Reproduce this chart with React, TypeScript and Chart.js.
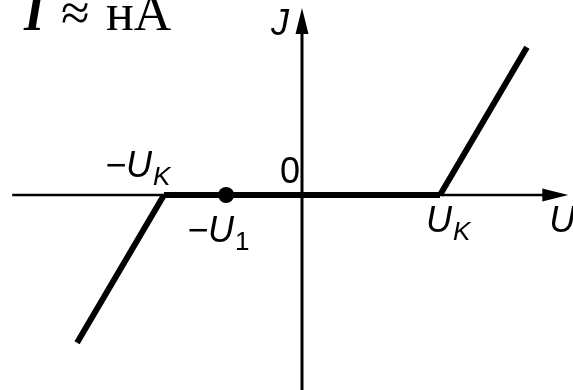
import React, { useEffect, useRef } from "react";
import { Chart, registerables } from "chart.js";

Chart.register(...registerables);

// Characteristic in units of the knee voltage U_K
const U_K = 1;
const U_1 = 0.55;

// Left conduction branch (beyond -U_K)
const leftBranchU = [-1.63, -U_K];
const leftBranchJ = [-1.07, 0];
// Blocking region: current ≈ nA, drawn on the axis
const blockU = [-U_K, U_K];
const blockJ = [0, 0];
// Right conduction branch (beyond U_K)
const rightBranchU = [U_K, 1.63];
const rightBranchJ = [0, 1.07];
// Marked operating point
const markerU = [-U_1];
const markerJ = [0];

// Axis extents (arrow tips at the positive ends)
const axisU = [-2.1, 1.93];
const axisJ = [-1.45, 1.355];

// Visible window
const uRange = [-2.1884, 1.9638];
const jRange = [-1.413, 1.413];

const toPts = (xs: number[], ys: number[]) => xs.map((x, i) => ({ x, y: ys[i] }));

type Label = {
  u: number;
  j: number;
  dx: number;
  dy: number;
  main: string;
  sub?: string;
  subItalic?: boolean;
};

const labels: Label[] = [
  { u: -U_K, j: 0, dx: -59, dy: -18, main: "−U", sub: "K", subItalic: true },
  { u: 0, j: 0, dx: -22, dy: -12, main: "0" },
  { u: -U_1, j: 0, dx: -39, dy: 47, main: "−U", sub: "1", subItalic: false },
  { u: U_K, j: 0, dx: -14, dy: 37, main: "U", sub: "K", subItalic: true },
  { u: axisU[1], j: 0, dx: -19, dy: 37, main: "U" },
  { u: 0, j: axisJ[1], dx: -31, dy: 27, main: "J" },
];

const SANS = "'Liberation Sans'";
const SERIF = "'Liberation Serif'";

const axesPlugin = {
  id: "arrowAxes",
  beforeDatasetsDraw(chart: any) {
    const { ctx, scales } = chart;
    const xs = scales.x;
    const ys = scales.y;
    const x0 = xs.getPixelForValue(0);
    const y0 = ys.getPixelForValue(0);
    const xL = xs.getPixelForValue(axisU[0]);
    const xR = xs.getPixelForValue(axisU[1]);
    const yB = ys.getPixelForValue(axisJ[0]);
    const yT = ys.getPixelForValue(axisJ[1]);
    const headLen = 26;
    const headHalf = 6.5;
    ctx.save();
    ctx.strokeStyle = "#000";
    ctx.fillStyle = "#000";
    ctx.lineCap = "butt";
    // horizontal axis
    ctx.lineWidth = 2.5;
    ctx.beginPath();
    ctx.moveTo(xL, y0);
    ctx.lineTo(xR - headLen + 2, y0);
    ctx.stroke();
    ctx.beginPath();
    ctx.moveTo(xR, y0);
    ctx.lineTo(xR - headLen, y0 - headHalf);
    ctx.lineTo(xR - headLen, y0 + headHalf);
    ctx.closePath();
    ctx.fill();
    // vertical axis
    ctx.lineWidth = 3;
    ctx.beginPath();
    ctx.moveTo(x0, yB);
    ctx.lineTo(x0, yT + headLen - 2);
    ctx.stroke();
    ctx.beginPath();
    ctx.moveTo(x0, yT);
    ctx.lineTo(x0 - headHalf, yT + headLen);
    ctx.lineTo(x0 + headHalf, yT + headLen);
    ctx.closePath();
    ctx.fill();
    ctx.restore();
  },
};

const labelPlugin = {
  id: "axisLabels",
  afterDatasetsDraw(chart: any) {
    const { ctx, scales } = chart;
    ctx.save();
    ctx.fillStyle = "#000";
    ctx.textBaseline = "alphabetic";
    ctx.textAlign = "left";
    for (const l of labels) {
      const px = scales.x.getPixelForValue(l.u) + l.dx;
      const py = scales.y.getPixelForValue(l.j) + l.dy;
      const italicMain = l.main !== "0";
      ctx.font = `${italicMain ? "italic " : ""}36px ${SANS}`;
      ctx.fillText(l.main, px, py);
      if (l.sub) {
        const w = ctx.measureText(l.main).width;
        ctx.font = `${l.subItalic ? "italic " : ""}26px ${SANS}`;
        ctx.fillText(l.sub, px + w + 1, py + 8);
      }
    }
    // unit note in the corner
    ctx.font = `italic bold 52px ${SERIF}`;
    ctx.fillText("I", 24, 30);
    ctx.font = `52px ${SERIF}`;
    ctx.fillText("≈", 61, 30);
    ctx.fillText("нА", 106, 30);
    ctx.restore();
  },
};

export default function App() {
  const ref = useRef<HTMLCanvasElement | null>(null);

  useEffect(() => {
    document.body.style.margin = "0";
    if (!ref.current) return;
    const thick = {
      showLine: true,
      borderColor: "#000",
      backgroundColor: "#000",
      borderWidth: 6,
      pointRadius: 0,
      borderCapStyle: "butt" as const,
      borderJoinStyle: "miter" as const,
      clip: false as const,
    };
    const chart = new Chart(ref.current, {
      type: "scatter",
      data: {
        datasets: [
          { ...thick, data: toPts(leftBranchU, leftBranchJ) },
          { ...thick, data: toPts(blockU, blockJ) },
          { ...thick, data: toPts(rightBranchU, rightBranchJ) },
          {
            data: toPts(markerU, markerJ),
            showLine: false,
            pointRadius: 8,
            pointBackgroundColor: "#000",
            pointBorderWidth: 0,
            clip: false as const,
          },
        ],
      },
      options: {
        animation: false,
        responsive: false,
        maintainAspectRatio: false,
        devicePixelRatio: 1,
        layout: { padding: 0, autoPadding: false },
        scales: {
          x: { type: "linear", display: false, min: uRange[0], max: uRange[1] },
          y: { type: "linear", display: false, min: jRange[0], max: jRange[1] },
        },
        plugins: {
          legend: { display: false },
          tooltip: { enabled: false },
          title: { display: false },
        },
        events: [],
      },
      plugins: [axesPlugin, labelPlugin],
    });
    return () => chart.destroy();
  }, []);

  return (
    <div style={{ position: "absolute", left: 0, top: 0, width: 573, height: 390, background: "#fff" }}>
      <canvas ref={ref} width={573} height={390} style={{ width: 573, height: 390, display: "block" }} />
    </div>
  );
}
